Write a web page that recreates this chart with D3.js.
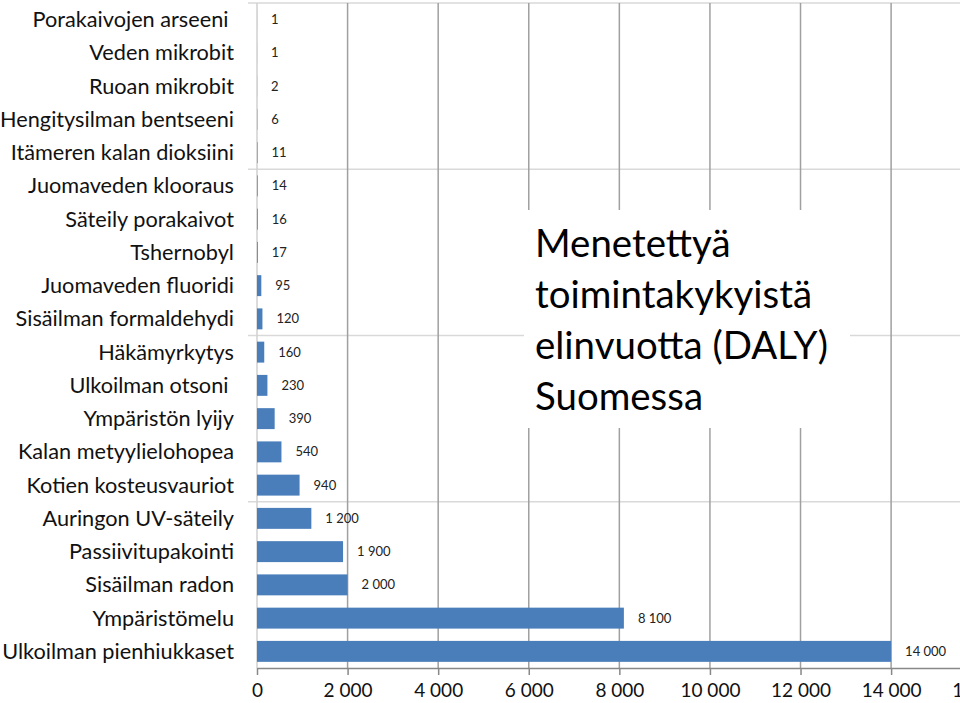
<!DOCTYPE html>
<html><head><meta charset="utf-8">
<script src="https://cdn.jsdelivr.net/npm/d3@7"></script>
<style>body{margin:0;background:#fff;}svg{display:block;}</style>
</head><body>
<svg id="chart" width="960" height="703"></svg>
<script>
const categories = ["Porakaivojen arseeni ","Veden mikrobit","Ruoan mikrobit","Hengitysilman bentseeni","Itämeren kalan dioksiini","Juomaveden klooraus","Säteily porakaivot","Tshernobyl","Juomaveden fluoridi","Sisäilman formaldehydi","Häkämyrkytys","Ulkoilman otsoni ","Ympäristön lyijy","Kalan metyylielohopea","Kotien kosteusvauriot","Auringon UV-säteily","Passiivitupakointi","Sisäilman radon","Ympäristömelu","Ulkoilman pienhiukkaset"];
const values = [1,1,2,6,11,14,16,17,95,120,160,230,390,540,940,1200,1900,2000,8100,14000];
const tickValues = [0,2000,4000,6000,8000,10000,12000,14000,16000];
const titleLines = ["Menetettyä","toimintakykyistä","elinvuotta (DALY)","Suomessa"];

const svg = d3.select("#chart");
const FONT = "Lato, 'Open Sans', sans-serif";
const locale = d3.formatLocale({decimal:",", thousands:" ", grouping:[3], currency:["",""]});
const fmt = locale.format(",d");

const x = d3.scaleLinear().domain([0,16000]).range([257, 981.7]);
const y = d3.scaleBand().domain(categories).range([3, 668]).paddingInner(0.37).paddingOuter(0.185);
const step = y.step();

// horizontal separators every 5 rows
const seps = d3.range(0, categories.length, 5).map(i => 3 + i*step);
svg.append("g").selectAll("line").data(seps).join("line")
  .attr("x1", 248).attr("x2", 960).attr("y1", d=>d).attr("y2", d=>d)
  .attr("stroke", "#d9d9d9").attr("stroke-width", 1.5);

// vertical gridlines
svg.append("g").selectAll("line").data(tickValues.filter(d=>d>0)).join("line")
  .attr("x1", d=>x(d)).attr("x2", d=>x(d)).attr("y1", 3).attr("y2", 668)
  .attr("stroke", "#a0a0a0").attr("stroke-width", 1.5);

// left axis line
svg.append("line").attr("x1", x(0)).attr("x2", x(0)).attr("y1", 3).attr("y2", 668)
  .attr("stroke", "#d0d0d0").attr("stroke-width", 1.5);

// bars
svg.append("g").selectAll("rect").data(values).join("rect")
  .attr("x", x(0)).attr("y", (d,i)=>y(categories[i]))
  .attr("width", d=>Math.max(0, x(d)-x(0))).attr("height", y.bandwidth())
  .attr("fill", "#4a7ebb");

// value labels
svg.append("g").selectAll("text").data(values).join("text")
  .attr("x", d=>x(d)+14).attr("y", (d,i)=>y(categories[i])+y.bandwidth()/2)
  .attr("dy", "0.35em").attr("font-family", FONT).attr("font-size", 13)
  .attr("fill", "#222").text(d=>fmt(d));

// bottom axis
const axis = svg.append("g").attr("transform", "translate(0,668)")
  .call(d3.axisBottom(x).tickValues(tickValues).tickFormat(fmt).tickSizeInner(7).tickSizeOuter(0).tickPadding(9));
axis.select(".domain").attr("stroke", "#888").attr("stroke-width", 1.5);
axis.selectAll(".tick line").attr("stroke", "#888").attr("stroke-width", 1.5);
axis.selectAll(".tick text").attr("font-family", FONT).attr("font-size", 19).attr("fill", "#111");

// category labels
const catG = svg.append("g");
const cats = catG.selectAll("text").data(categories).join("text")
  .attr("x", 234).attr("y", d=>y(d)+y.bandwidth()/2).attr("dy", "0.35em")
  .attr("text-anchor", "end").attr("font-family", FONT).attr("font-size", 20)
  .attr("fill", "#111").style("white-space", "pre").text(d=>d);
// fit widest label to reference width
const longest = cats.filter(d=>d==="Ulkoilman pienhiukkaset").node();
const w = longest.getComputedTextLength();
cats.attr("font-size", 20*232/w);

// title box
svg.append("rect").attr("x", 524).attr("y", 210).attr("width", 326).attr("height", 218).attr("fill", "#fff");
const tt = svg.append("g").selectAll("text").data(titleLines).join("text")
  .attr("x", 535).attr("y", (d,i)=>257 + i*51)
  .attr("font-family", FONT).attr("font-size", 38).attr("fill", "#000").text(d=>d);
const tw = tt.filter(d=>d==="elinvuotta (DALY)").node().getComputedTextLength();
tt.attr("font-size", 38*293/tw);
</script>
</body></html>
